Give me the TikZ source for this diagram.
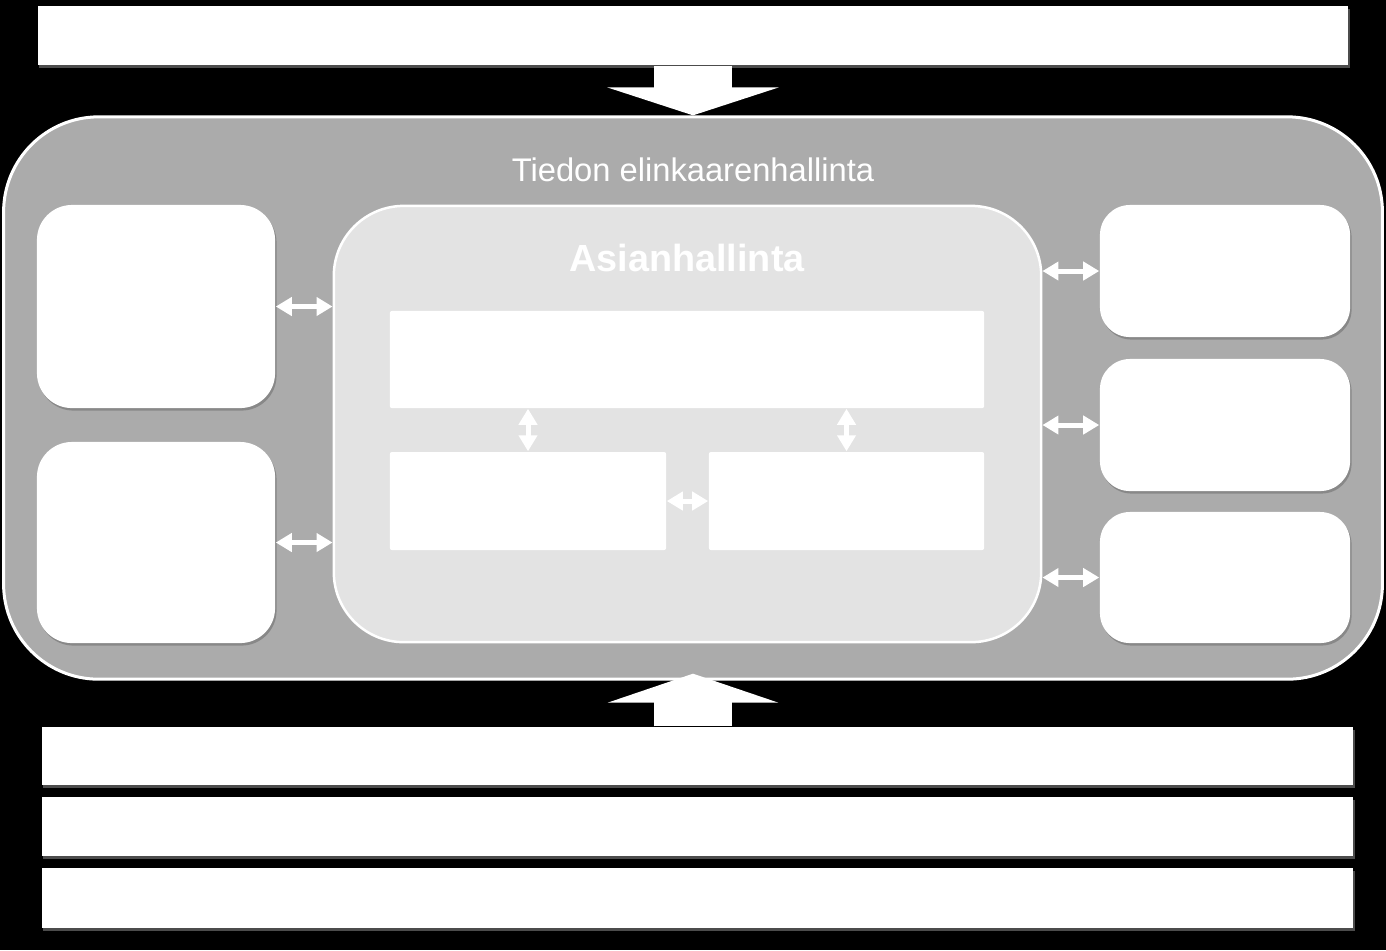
\documentclass[tikz,border=0pt]{standalone}
\usepackage{fontspec}
\setmainfont{Liberation Sans}
\usepackage{tikz}
\usetikzlibrary{arrows.meta,shadows}
\definecolor{outergray}{HTML}{ABABAB}
\definecolor{innergray}{HTML}{E3E3E3}
\tikzset{
  band/.style={rectangle,fill=white,minimum height=0.59cm,minimum width=13.1cm,inner sep=0pt,
    drop shadow={shadow xshift=0.015cm,shadow yshift=-0.025cm,fill=gray,opacity=0.6}},
  sidebox/.style={rectangle,rounded corners=0.35cm,fill=white,minimum width=2.38cm,inner sep=0pt,
    drop shadow={shadow xshift=0.015cm,shadow yshift=-0.025cm,fill=gray!80!black,opacity=0.5}},
  partbox/.style={rectangle,rounded corners=0.02cm,fill=white,minimum height=0.98cm,inner sep=0pt},
  link/.style={white,line width=0.05cm,{Triangle[length=1.6mm,width=1.8mm]}-{Triangle[length=1.6mm,width=1.8mm]}},
  bigarrow/.style={white,line width=0.78cm,-{Triangle[length=2.8mm,width=17.1mm]}}
}
\begin{document}
\begin{tikzpicture}[x=0.01cm,y=-0.01cm]
\useasboundingbox (0,0) rectangle (1386,950);
\fill[black] (0,0) rectangle (1386,950);
% top and bottom bands
\node[band] (top) at (693,35.5){};
\node[band,minimum width=13.11cm,minimum height=0.58cm] (B1) at (697.5,756){};
\node[band,minimum width=13.11cm] (B2) at (697.5,826.5){};
\node[band,minimum width=13.11cm,minimum height=0.6cm] (B3) at (697.5,898){};
% lifecycle frame
\node[rectangle,rounded corners=0.95cm,fill=outergray,draw=white,line width=0.03cm,
  minimum width=13.78cm,minimum height=5.62cm,inner sep=0pt] (outer) at (693,398){};
\node[text=white,font=\fontsize{9.3}{11}\selectfont] (title) at (693,170){Tiedon elinkaarenhallinta};
% case management
\node[rectangle,rounded corners=0.7cm,fill=innergray,draw=white,line width=0.025cm,
  minimum width=7.07cm,minimum height=4.36cm,inner sep=0pt] (inner) at (687.5,424){};
\node[text=white,font=\bfseries\fontsize{10.75}{13}\selectfont] (ah) at (687,258){Asianhallinta};
\node[partbox,minimum width=5.94cm,minimum height=0.97cm] (ah1) at (687,359.5){};
\node[partbox,minimum width=2.76cm] (ah2) at (528,501){};
\node[partbox,minimum width=2.75cm] (ah3) at (846.5,501){};
% side boxes
\node[sidebox,minimum height=2.03cm] (L1) at (156,306.5){};
\node[sidebox,minimum height=2.01cm] (L2) at (156,542.5){};
\node[sidebox,rounded corners=0.3cm,minimum width=2.5cm,minimum height=1.32cm] (R1) at (1225,271){};
\node[sidebox,rounded corners=0.3cm,minimum width=2.5cm,minimum height=1.32cm] (R2) at (1225,425){};
\node[sidebox,rounded corners=0.3cm,minimum width=2.5cm,minimum height=1.31cm] (R3) at (1225,577.5){};
% arrows
\draw[bigarrow] (top.south) -- (outer.north);
\draw[bigarrow,-{Triangle[length=2.9mm,width=17mm]},shorten >=-0.07cm] (outer.south |- B1.north) -- (outer.south);
\foreach \nd in {L1,L2}
  \draw[link] (\nd.east) -- (\nd.east -| inner.west);
\foreach \nd in {R1,R2,R3}
  \draw[link] (\nd.west -| inner.east) -- (\nd.west);
\foreach \nd in {ah2,ah3}
  \draw[link] (\nd.north) -- (\nd.north |- ah1.south);
\draw[link] (ah2.east) -- (ah3.west);
\end{tikzpicture}
\end{document}
